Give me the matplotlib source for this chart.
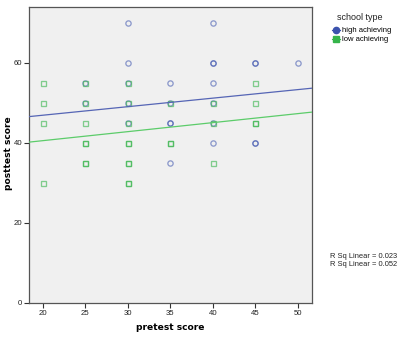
import matplotlib
matplotlib.use("Agg")
import matplotlib.pyplot as plt
from matplotlib.lines import Line2D
import numpy as np

plt.rcParams["font.family"] = ["Liberation Sans", "DejaVu Sans"]

# Observations: pretest vs posttest score by school type
high_pre = [25, 25, 30, 30, 30, 30, 30, 35, 35, 35, 35, 35, 40, 40, 40, 40, 40, 40, 40, 45, 45, 45, 45, 50]
high_post = [55, 50, 70, 60, 55, 50, 45, 55, 50, 45, 45, 35, 70, 60, 60, 55, 50, 45, 40, 60, 60, 40, 40, 60]

low_pre = [20, 20, 20, 20, 25, 25, 25, 25, 25, 25, 25, 30, 30, 30, 30, 30, 30, 30, 30, 30,
           35, 35, 35, 40, 40, 40, 45, 45, 45, 45]
low_post = [55, 50, 45, 30, 55, 50, 45, 40, 40, 35, 35, 55, 50, 45, 40, 40, 35, 35, 30, 30,
            50, 40, 40, 50, 45, 35, 55, 50, 45, 45]

# Linear fit lines (intercept, slope) and their R squared
high_fit = (42.6, 0.213)
low_fit = (36.0, 0.225)
high_r2 = 0.023
low_r2 = 0.052

blue = "#3b52ad"
green = "#35b44a"

fig = plt.figure(figsize=(4.02, 3.37), dpi=100)
ax = fig.add_axes([0.0721, 0.1018, 0.7040, 0.8774])
ax.set_facecolor("#f0f0f0")

ax.plot(high_pre, high_post, linestyle="none", marker="o", markersize=3.8,
        markerfacecolor="none", markeredgecolor=blue, markeredgewidth=0.95, alpha=0.55, zorder=3)
ax.plot(low_pre, low_post, linestyle="none", marker="s", markersize=3.6,
        markerfacecolor="none", markeredgecolor=green, markeredgewidth=0.95, alpha=0.6, zorder=4)

xlim = (18.35, 51.7)
xs = np.array(xlim)
ax.plot(xs, high_fit[0] + high_fit[1] * xs, color="#5565b5", lw=0.9, zorder=5)
ax.plot(xs, low_fit[0] + low_fit[1] * xs, color="#5ccc6a", lw=0.9, zorder=5)

ax.set_xlim(*xlim)
ax.set_ylim(0, 73.9)
ax.set_xticks([20, 25, 30, 35, 40, 45, 50])
ax.set_yticks([0, 20, 40, 60])
ax.tick_params(axis="both", direction="out", length=3.5, width=0.8, color="#333333",
               labelsize=5.6, labelcolor="#222222", pad=1.5)
for side in ["top", "right", "left", "bottom"]:
    ax.spines[side].set_color("#555555")
    ax.spines[side].set_linewidth(0.9)

fig.text(170 / 402, 1 - 328 / 337, "pretest score", fontsize=6.6, fontweight="bold",
         family="DejaVu Sans", ha="center", va="center")
fig.text(9 / 402, 1 - 153 / 337, "posttest score", fontsize=6.6, fontweight="bold",
         family="DejaVu Sans", ha="center", va="center", rotation=90)

handles = [
    Line2D([0], [0], color=blue, marker="o", markersize=4.5, lw=0.8, label="high achieving"),
    Line2D([0], [0], color=green, marker="s", markersize=4.5, lw=0.8, label="low achieving"),
]
fig.text(360 / 402, 1 - 17 / 337, "school type", fontsize=6.5, color="#222222",
         ha="center", va="center")
fig.legend(handles=handles, loc="upper left", bbox_to_anchor=(332 / 402, 1 - 27 / 337),
           frameon=False, fontsize=5.5, handlelength=1.1, handletextpad=0.25,
           labelspacing=0.2, borderaxespad=0, borderpad=0)

fig.text(330 / 402, 1 - 257 / 337, f"R Sq Linear = {high_r2:.3f}", fontsize=5.4,
         color="#222222", va="center")
fig.text(330 / 402, 1 - 265 / 337, f"R Sq Linear = {low_r2:.3f}", fontsize=5.4,
         color="#222222", va="center")

fig.savefig("out.png", dpi=100)
